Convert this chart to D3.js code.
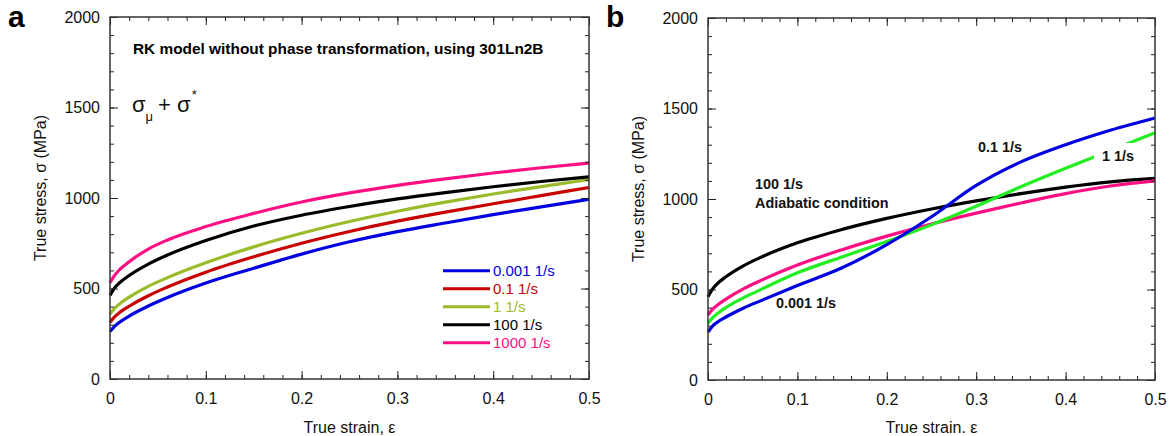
<!DOCTYPE html>
<html>
<head>
<meta charset="utf-8">
<script src="https://cdn.jsdelivr.net/npm/d3@7"></script>
<style>
  body { margin: 0; background: #fff; }
  svg { font-family: "Liberation Sans", Arial, sans-serif; }
</style>
</head>
<body>
<svg id="chart" width="1174" height="436"></svg>
<script>
// ---- panel a data (RK model, no phase transformation) ----
const strainA = [0, 0.005, 0.01, 0.02, 0.04, 0.06, 0.1, 0.15, 0.2, 0.25, 0.3, 0.35, 0.4, 0.45, 0.5];
const a0001 = [262, 292, 314, 348, 403, 450, 530, 612, 690, 758, 814, 862, 908, 951, 993];
const a01   = [314, 345, 367, 402, 460, 508, 590, 675, 750, 815, 872, 922, 968, 1013, 1058];
const a1    = [358, 392, 415, 452, 512, 560, 642, 730, 805, 870, 927, 977, 1022, 1063, 1102];
const a100  = [462, 505, 532, 572, 635, 685, 765, 845, 905, 953, 995, 1030, 1062, 1091, 1117];
const a1000 = [532, 574, 604, 648, 718, 768, 842, 915, 978, 1028, 1070, 1106, 1138, 1167, 1193];
const legendA = ["0.001 1/s", "0.1 1/s", "1 1/s", "100 1/s", "1000 1/s"];

// ---- panel b data ----
const strainB = [0, 0.005, 0.01, 0.02, 0.04, 0.06, 0.1, 0.15, 0.2, 0.25, 0.3, 0.35, 0.4, 0.45, 0.5];
const bBlue  = [265, 298, 318, 348, 398, 440, 522, 620, 748, 902, 1075, 1205, 1300, 1380, 1448];
const bGreen = [313, 343, 365, 400, 455, 502, 592, 680, 765, 857, 960, 1068, 1170, 1268, 1366];
const bPink  = [359, 390, 412, 447, 505, 552, 635, 720, 795, 862, 922, 978, 1030, 1072, 1100];
const bBlack = [460, 502, 530, 570, 632, 680, 758, 832, 893, 945, 990, 1030, 1066, 1095, 1114];

const xTicks = [0, 0.1, 0.2, 0.3, 0.4, 0.5];
const yTicks = [0, 500, 1000, 1500, 2000];

const svg = d3.select("#chart");

function drawPanel(box, xTitle, curves) {
    const x = d3.scaleLinear().domain([0, 0.5]).range([box.left, box.right]);
    const y = d3.scaleLinear().domain([0, 2000]).range([box.bottom, box.top]);
    const g = svg.append("g");

    const line = d3.line().x(d => x(d[0])).y(d => y(d[1])).curve(d3.curveMonotoneX);
    curves.forEach(c => {
        g.append("path")
            .attr("d", line(c.xs.map((v, i) => [v, c.ys[i]])))
            .attr("fill", "none")
            .attr("stroke", c.color)
            .attr("stroke-width", 3.2);
    });

    // inward ticks on all four sides
    const minorX = d3.range(0, 0.5001, 0.02);
    const minorY = d3.range(0, 2001, 100);
    const w = box.right - box.left, h = box.bottom - box.top;
    const axB = d3.axisBottom(x).tickValues(xTicks).tickSizeInner(-8).tickSizeOuter(0).tickFormat(d3.format("~g")).tickPadding(14);
    const axT = d3.axisTop(x).tickValues(xTicks).tickSizeInner(-8).tickSizeOuter(0).tickFormat("");
    const axL = d3.axisLeft(y).tickValues(yTicks).tickSizeInner(-8).tickSizeOuter(0).tickFormat(d3.format("d")).tickPadding(10);
    const axR = d3.axisRight(y).tickValues(yTicks).tickSizeInner(-8).tickSizeOuter(0).tickFormat("");
    const mB = d3.axisBottom(x).tickValues(minorX).tickSize(-4).tickFormat("");
    const mT = d3.axisTop(x).tickValues(minorX).tickSize(-4).tickFormat("");
    const mL = d3.axisLeft(y).tickValues(minorY).tickSize(-4).tickFormat("");
    const mR = d3.axisRight(y).tickValues(minorY).tickSize(-4).tickFormat("");

    [[axB, `translate(0,${box.bottom})`], [axT, `translate(0,${box.top})`],
     [axL, `translate(${box.left},0)`], [axR, `translate(${box.right},0)`],
     [mB, `translate(0,${box.bottom})`], [mT, `translate(0,${box.top})`],
     [mL, `translate(${box.left},0)`], [mR, `translate(${box.right},0)`]].forEach(([ax, tr]) => {
        const a = g.append("g").attr("transform", tr).call(ax);
        a.select(".domain").remove();
        a.selectAll("line").attr("stroke", "#222").attr("stroke-width", 1);
        a.selectAll("text").attr("font-size", 16).attr("fill", "#111")
            .attr("font-family", "Liberation Sans, Arial, sans-serif");
    });

    g.append("rect")
        .attr("x", box.left).attr("y", box.top)
        .attr("width", w).attr("height", h)
        .attr("fill", "none").attr("stroke", "#333").attr("stroke-width", 1.5);

    g.append("text")
        .attr("x", (box.left + box.right) / 2).attr("y", 433)
        .attr("text-anchor", "middle").attr("font-size", 16).attr("fill", "#111")
        .text(xTitle);
    g.append("text")
        .attr("transform", `translate(${box.left - 64},${box.top + h / 2 - 10}) rotate(-90)`)
        .attr("text-anchor", "middle").attr("font-size", 16).attr("fill", "#111")
        .text("True stress, σ (MPa)");
    g.append("text")
        .attr("x", box.left - 102).attr("y", 27)
        .attr("font-size", 30).attr("font-weight", "bold")
        .text(box.letter);
    return { x, y, g };
}

// ---- panel a ----
const colorsA = ["#0000e0", "#c80000", "#9bbb2a", "#000000", "#ff0f84"];
const seriesA = [a0001, a01, a1, a100, a1000];
const pa = drawPanel({ left: 110, right: 589, top: 17, bottom: 379, letter: "a" }, "True strain, ε",
    seriesA.map((ys, i) => ({ xs: strainA, ys, color: colorsA[i] })));

pa.g.append("text")
    .attr("x", 133).attr("y", 54)
    .attr("font-size", 15.4).attr("font-weight", "bold")
    .text("RK model without phase transformation, using 301Ln2B");

const sig = pa.g.append("text").attr("x", 132).attr("y", 112).attr("font-size", 22).attr("fill", "#111");
sig.append("tspan").text("σ");
sig.append("tspan").attr("font-size", 13).attr("dy", 9).text("μ");
sig.append("tspan").attr("dy", -9).attr("dx", 5).text("+ σ");
sig.append("tspan").attr("font-size", 13).attr("dy", -13).attr("dx", 1).text("*");

const legY = d3.scalePoint().domain(legendA).range([270.7, 342.7]);
legendA.forEach((lab, i) => {
    pa.g.append("line")
        .attr("x1", 443).attr("x2", 490)
        .attr("y1", legY(lab)).attr("y2", legY(lab))
        .attr("stroke", colorsA[i]).attr("stroke-width", 3);
    pa.g.append("text")
        .attr("x", 493).attr("y", legY(lab) + 5.5)
        .attr("font-size", 15).attr("fill", colorsA[i])
        .text(lab);
});

// ---- panel b ----
const pb = drawPanel({ left: 708, right: 1155, top: 18, bottom: 380, letter: "b" }, "True strain. ε", [
    { xs: strainB, ys: bBlack, color: "#000000" },
    { xs: strainB, ys: bPink, color: "#ff0f84" },
    { xs: strainB, ys: bGreen, color: "#22ee22" },
    { xs: strainB, ys: bBlue, color: "#0000e0" }
]);

pb.g.append("rect").attr("x", 1094).attr("y", 143).attr("width", 42).attr("height", 21).attr("fill", "#fff");
const labB = [
    ["100 1/s", 755, 189],
    ["Adiabatic condition", 755, 208],
    ["0.001 1/s", 776, 308],
    ["0.1 1/s", 978, 152],
    ["1 1/s", 1102, 161]
];
labB.forEach(([t, lx, ly]) => {
    pb.g.append("text").attr("x", lx).attr("y", ly)
        .attr("font-size", 14.4).attr("font-weight", "bold").attr("fill", "#111")
        .text(t);
});
</script>
</body>
</html>
